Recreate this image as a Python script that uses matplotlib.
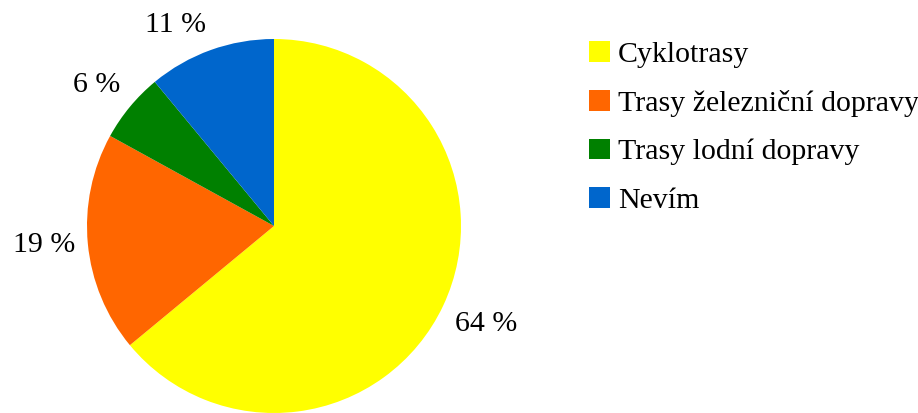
import numpy as np
import matplotlib.pyplot as plt
from matplotlib.patches import Patch

# data
categories = ["Cyklotrasy", "Trasy železniční dopravy", "Trasy lodní dopravy", "Nevím"]
shares = [64, 19, 6, 11]
colors = ["#FFFF00", "#FF6600", "#008000", "#0066CC"]

plt.rcParams['font.family'] = ['Liberation Serif', 'DejaVu Serif']

fig = plt.figure(figsize=(9.18, 4.13), dpi=100)
ax = fig.add_axes([87 / 918, 0.0, 374 / 918, 374 / 413])

wedges, texts, autotexts = ax.pie(
    shares, colors=colors, startangle=90, counterclock=False,
    autopct=lambda p: f"{p:.0f} %", pctdistance=1.07,
    wedgeprops=dict(linewidth=0), textprops=dict(fontsize=21.5, color="black"))

# anchor labels like an office suite: nearest corner towards the wedge
for w, t in zip(wedges, autotexts):
    mid = np.deg2rad((w.theta1 + w.theta2) / 2)
    c, s = np.cos(mid), np.sin(mid)
    t.set_position((1.07 * c, 1.07 * s))
    t.set_ha("left" if c > 0 else "right")
    t.set_va("bottom" if s > 0.3 else ("top" if s < -0.3 else "center"))

ax.set_xlim(-1, 1)
ax.set_ylim(-1, 1)
ax.set_aspect("equal")

handles = [Patch(facecolor=c, edgecolor="none") for c in colors]
fig.legend(handles, categories, loc="upper left", bbox_to_anchor=(589 / 918, 1 - 41 / 413),
           frameon=False, fontsize=21.5, handlelength=0.7, handleheight=0.7,
           handletextpad=0.27, labelspacing=0.73, borderaxespad=0, borderpad=0)

fig.savefig("out.png", dpi=100)
